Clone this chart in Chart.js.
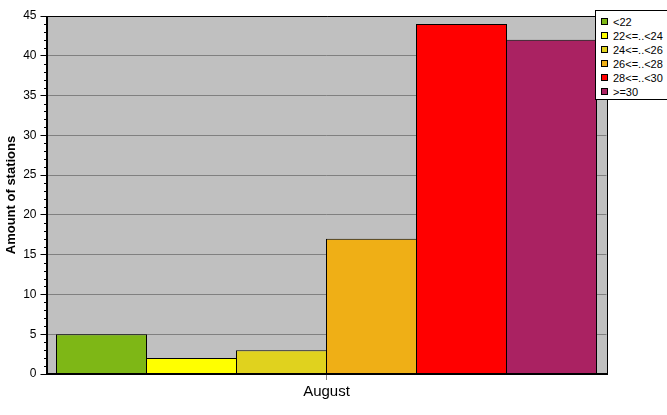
<!DOCTYPE html>
<html>
<head>
<meta charset="utf-8">
<script src="https://cdn.jsdelivr.net/npm/chart.js@4"></script>
<style>
  html, body { margin: 0; padding: 0; background: #fff; }
  #wrap { position: relative; width: 667px; height: 415px; }
  #legend { position: absolute; left: 595px; top: 10px; width: 72px; height: 90px; background: #fff;
            border: 1px solid #000; border-right: none; box-sizing: border-box; font-family: "Liberation Sans", Arial, sans-serif;
            font-size: 11px; color: #000; padding-top: 4px; }
  .item { height: 14px; line-height: 14px; white-space: nowrap; position: relative; }
  .sw { position: absolute; left: 5px; top: 3px; width: 5px; height: 5px; border: 1px solid #000; }
  .lb { position: absolute; left: 17px; top: 0; }
</style>
</head>
<body>
<div id="wrap">
  <canvas id="c" width="667" height="415"></canvas>
  <div id="legend"></div>
</div>
<script>
const categories = ['August'];
const seriesNames = ['<22', '22<=..<24', '24<=..<26', '26<=..<28', '28<=..<30', '>=30'];
const seriesValues = [5, 2, 3, 17, 44, 42];
const seriesColors = ['#7EB716', '#FFFF00', '#E0D21E', '#EFAF16', '#FF0000', '#AA2262'];
const yMax = 45;
const yTitle = 'Amount of stations';

const datasets = seriesNames.map((n, i) => ({
  label: n,
  data: [seriesValues[i]],
  backgroundColor: seriesColors[i],
  borderColor: '#000000',
  borderWidth: 1,
  barPercentage: 91 / 90,
  categoryPercentage: 540 / 560
}));

const frame = {
  id: 'frame',
  beforeDraw(chart) {
    const {ctx, chartArea: a} = chart;
    const L = Math.round(a.left), R = Math.round(a.right);
    ctx.save();
    ctx.fillStyle = '#C0C0C0';
    ctx.fillRect(L, a.top, R - L + 1, a.bottom - a.top);
    ctx.restore();
  },
  afterDraw(chart) {
    const {ctx, chartArea: a} = chart;
    const L = Math.round(a.left), R = Math.round(a.right);
    const y = chart.scales.y;
    ctx.save();
    ctx.strokeStyle = '#000';
    ctx.lineWidth = 1;
    ctx.beginPath();
    ctx.moveTo(L, a.top + 0.5); ctx.lineTo(R + 0.5, a.top + 0.5);
    ctx.lineTo(R + 0.5, a.bottom);
    ctx.stroke();
    // minor ticks
    ctx.beginPath();
    for (let v = 0; v <= yMax; v++) {
      if (v % 5 === 0) continue;
      const py = Math.round(y.getPixelForValue(v)) + 0.5;
      ctx.moveTo(L - 3, py); ctx.lineTo(L, py);
    }
    ctx.stroke();
    // axis lines
    ctx.lineWidth = 2;
    ctx.beginPath();
    ctx.moveTo(L, a.top); ctx.lineTo(L, a.bottom);
    ctx.lineTo(R + 1, a.bottom);
    ctx.stroke();
    ctx.restore();
  }
};

new Chart(document.getElementById('c'), {
  type: 'bar',
  data: { labels: categories, datasets },
  options: {
    responsive: false,
    animation: false,
    devicePixelRatio: 1,
    layout: { padding: { left: 0, top: 16, right: 60.5, bottom: 0 } },
    plugins: { legend: { display: false }, tooltip: { enabled: false } },
    scales: {
      x: {
        grid: { offset: false, drawOnChartArea: false, drawTicks: true, tickLength: 6, color: '#808080' },
        border: { display: false },
        ticks: { color: '#000', font: { family: 'Liberation Sans', size: 15 }, padding: 3 },
        afterFit(s) { s.height = 41; }
      },
      y: {
        min: 0, max: yMax,
        grid: {
          color: ctx => (ctx.tick && ctx.tick.value % 5 === 0) ? '#808080' : 'rgba(0,0,0,0)',
          tickColor: ctx => (ctx.tick && ctx.tick.value % 5 === 0) ? '#000' : 'rgba(0,0,0,0)',
          tickLength: 6, drawTicks: true
        },
        border: { display: false },
        ticks: {
          stepSize: 1, autoSkip: false, color: '#000', padding: 4,
          font: { family: 'Liberation Sans', size: 12 },
          callback: v => (v % 5 === 0 ? String(v) : '')
        },
        title: { display: true, text: yTitle, color: '#000', font: { family: 'Liberation Sans', size: 13, weight: 'bold' }, padding: { top: 4, bottom: 0 } },
        afterFit(s) { s.width = 46.5; }
      }
    }
  },
  plugins: [frame]
});

const lg = document.getElementById('legend');
seriesNames.forEach((n, i) => {
  const it = document.createElement('div'); it.className = 'item';
  const sw = document.createElement('span'); sw.className = 'sw'; sw.style.background = seriesColors[i];
  const lb = document.createElement('span'); lb.className = 'lb'; lb.textContent = n;
  it.appendChild(sw); it.appendChild(lb); lg.appendChild(it);
});
</script>
</body>
</html>
